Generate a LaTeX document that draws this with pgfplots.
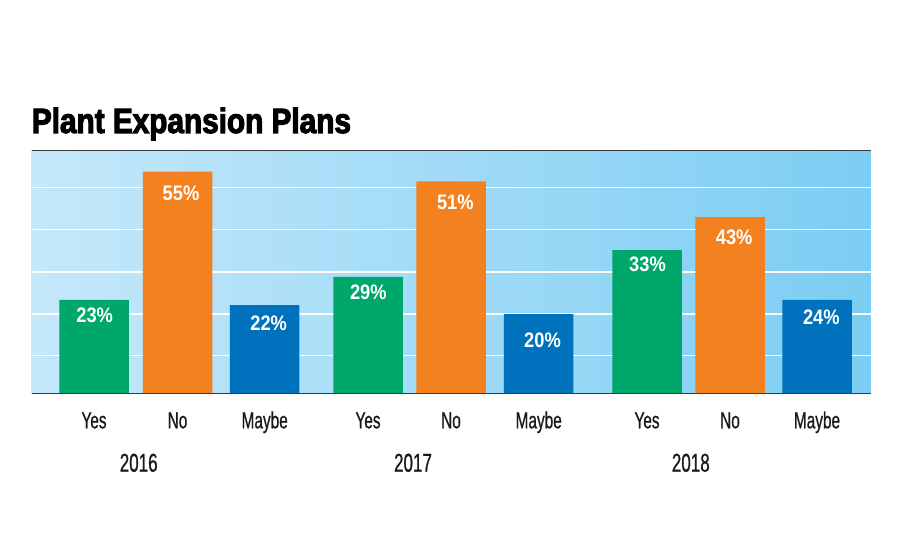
\documentclass[border=0pt]{standalone}
\usepackage{fontspec}
\usepackage{pgfplots}
\pgfplotsset{compat=1.18}
\usetikzlibrary{shadings}
\setmainfont{Liberation Sans}
\newfontfamily\titlefont[FakeStretch=0.85,BoldFeatures={FakeBold=3}]{Liberation Sans}
\newfontfamily\labfont[FakeStretch=0.66,FakeBold=0.7]{Liberation Sans}
\newfontfamily\valfont[FakeStretch=0.87]{Liberation Sans}
\definecolor{cYes}{RGB}{0,167,107}
\definecolor{cNo}{RGB}{244,129,32}
\definecolor{cMay}{RGB}{0,113,188}
\definecolor{bgL}{RGB}{197,232,250}
\definecolor{bgR}{RGB}{124,205,243}
\definecolor{lineC}{RGB}{55,60,66}
\begin{document}
\begin{tikzpicture}[x=1pt,y=1pt]
\useasboundingbox (0,0) rectangle (900,550);
\node[anchor=base west, inner sep=0pt] at (31.7,417) {\titlefont\bfseries\fontsize{35}{40}\selectfont Plant Expansion Plans};
\begin{axis}[
  at={(31.7pt,156.7pt)}, anchor=south west,
  scale only axis, width=839pt, height=242.6pt,
  xmin=31.7, xmax=870.7, ymin=0, ymax=60,
  axis line style={draw=none},
  major tick length=0pt,
  axis background/.style={left color=bgL, right color=bgR},
  ytick={9.3,19.6,30,40.6,50.9}, yticklabels={},
  ymajorgrids, grid style={white, line width=1.2pt},
  xtick={94,177.5,264.7,368,451,538.7,647,730,817},
  xticklabels={Yes,No,Maybe,Yes,No,Maybe,Yes,No,Maybe},
  xticklabel style={anchor=base, inner sep=0pt, yshift=-35pt, text=black!90, font=\labfont\fontsize{23.3}{26}\selectfont},
  clip=false,
]
\addplot[ybar, bar width=69.5, bar shift=0pt, fill=cYes, draw=none] coordinates {(94,23.1) (368,28.8) (647,35.4)};
\addplot[ybar, bar width=69.5, bar shift=0pt, fill=cNo, draw=none] coordinates {(177.5,54.8) (451,52.4) (730,43.6)};
\addplot[ybar, bar width=69.5, bar shift=0pt, fill=cMay, draw=none] coordinates {(264.7,21.8) (538.7,19.6) (817,23.1)};
\addplot[only marks, mark=none, point meta=explicit symbolic,
  nodes near coords,
  nodes near coords style={anchor=center, inner sep=0pt, text=white, font=\valfont\bfseries\fontsize{21}{24}\selectfont}]
  coordinates {(94.7,19.4)[23\%] (181,49.4)[55\%] (268.7,17.3)[22\%]
               (368.3,24.9)[29\%] (455.3,47.3)[51\%] (542.5,13.1)[20\%]
               (647.5,32.0)[33\%] (734.2,38.7)[43\%] (821.3,18.7)[24\%]};
\draw[lineC, line width=1.5pt] (rel axis cs:0,1) -- (rel axis cs:1,1);
\draw[lineC, line width=1.3pt] (rel axis cs:0,0) -- (rel axis cs:1,0);
\node[anchor=base, inner sep=0pt, text=black!90, font=\labfont\fontsize{25.8}{29}\selectfont] at (axis cs:138.7,0) [yshift=-78.4pt] {2016};
\node[anchor=base, inner sep=0pt, text=black!90, font=\labfont\fontsize{25.8}{29}\selectfont] at (axis cs:413,0) [yshift=-78.4pt] {2017};
\node[anchor=base, inner sep=0pt, text=black!90, font=\labfont\fontsize{25.8}{29}\selectfont] at (axis cs:690.8,0) [yshift=-78.4pt] {2018};
\end{axis}
\end{tikzpicture}
\end{document}
